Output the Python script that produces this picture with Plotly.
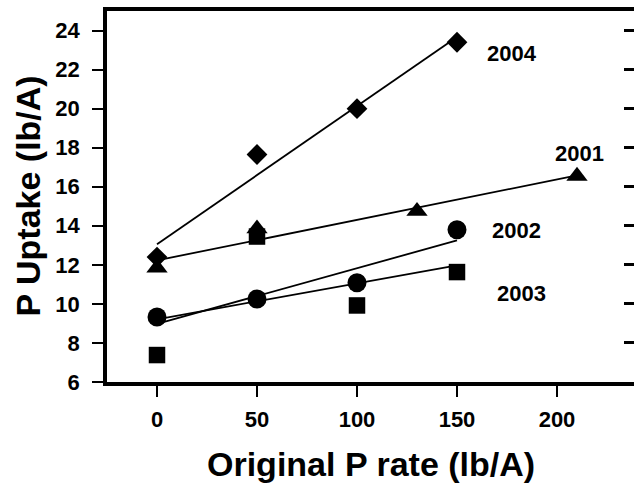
import numpy as np
import plotly.graph_objects as go

# ---- data ----
x_2004 = [0, 50, 100, 150]
y_2004 = [12.4, 17.65, 20.0, 23.4]
x_2001 = [0, 50, 130, 210]
y_2001 = [11.85, 13.85, 14.75, 16.55]
x_2002 = [0, 50, 100, 150]
y_2002 = [9.33, 10.25, 11.08, 13.8]
x_2003 = [0, 50, 100, 150]
y_2003 = [7.38, 13.45, 9.92, 11.63]
series_names = ["2004", "2001", "2002", "2003"]
x_ticks = [0, 50, 100, 150, 200]
y_ticks = [6, 8, 10, 12, 14, 16, 18, 20, 22, 24]

FONT = "Liberation Sans, Arial, sans-serif"
W, H = 634, 485
ML, MR, MT, MB = 107, 0, 11, 103

series = [
    (x_2004, y_2004, "diamond", 16),
    (x_2001, y_2001, "triangle-up", 18.5),
    (x_2002, y_2002, "circle", 19),
    (x_2003, y_2003, "square", 16.5),
]

fig = go.Figure()
for (xs, ys, sym, sz), name in zip(series, series_names):
    xs_a = np.array(xs, dtype=float)
    ys_a = np.array(ys, dtype=float)
    k, b = np.polyfit(xs_a, ys_a, 1)
    xl = np.array([xs_a.min(), xs_a.max()])
    fig.add_trace(go.Scatter(x=xl, y=k * xl + b, mode="lines",
                             line=dict(color="black", width=1.8),
                             showlegend=False, hoverinfo="skip"))
    fig.add_trace(go.Scatter(x=xs, y=ys, mode="markers", name=name,
                             marker=dict(symbol=sym, size=sz, color="black",
                                         line=dict(width=0)),
                             showlegend=False))

# dummy trace so the right-hand tick axis is drawn
fig.add_trace(go.Scatter(x=[None], y=[None], yaxis="y2", showlegend=False))

# series labels
label_pos = {"2004": (177.5, 22.82), "2001": (211, 17.71),
             "2002": (179.5, 13.78), "2003": (182, 10.55)}
for name in series_names:
    lx, ly = label_pos[name]
    fig.add_annotation(x=lx, y=ly, text=name, showarrow=False,
                       font=dict(family=FONT, size=22, color="black", weight="bold"),
                       xanchor="center", yanchor="middle")

pw = W - ML - MR
ph = H - MT - MB
# axis titles
fig.add_annotation(xref="paper", yref="paper", x=(371 - ML) / pw, y=-(464 - (H - MB)) / ph,
                   text="Original P rate (lb/A)", showarrow=False,
                   font=dict(family=FONT, size=34, color="black", weight="bold"),
                   xanchor="center", yanchor="middle")
fig.add_annotation(xref="paper", yref="paper", x=-(ML - 27) / pw, y=0.5,
                   text="P Uptake (lb/A)", showarrow=False, textangle=-90,
                   font=dict(family=FONT, size=34, color="black", weight="bold"),
                   xanchor="center", yanchor="middle")

fig.update_layout(
    width=W, height=H,
    margin=dict(l=ML, r=MR, t=MT, b=MB, pad=0),
    paper_bgcolor="white", plot_bgcolor="white",
    font=dict(family=FONT, color="black"),
    xaxis=dict(range=[-25, 238.5], tickvals=x_ticks, ticks="outside",
               ticklen=11, tickwidth=2, tickcolor="black",
               showline=True, linewidth=4, linecolor="black", mirror=True,
               showgrid=False, zeroline=False,
               tickfont=dict(family=FONT, size=22, color="black", weight="bold"),
               ticklabelstandoff=4),
    yaxis=dict(range=[6, 25], tickvals=y_ticks, ticks="outside",
               ticklen=11, tickwidth=2, tickcolor="black",
               showline=True, linewidth=3.5, linecolor="black", mirror=False,
               showgrid=False, zeroline=False,
               tickfont=dict(family=FONT, size=22, color="black", weight="bold"),
               ticklabelstandoff=8),
    yaxis2=dict(range=[6, 25], tickvals=y_ticks[1:], ticks="inside",
                ticklen=10, tickwidth=2.5, tickcolor="black",
                overlaying="y", side="right", showticklabels=False,
                showline=False, showgrid=False, zeroline=False),
)

fig.write_html("out.html")
